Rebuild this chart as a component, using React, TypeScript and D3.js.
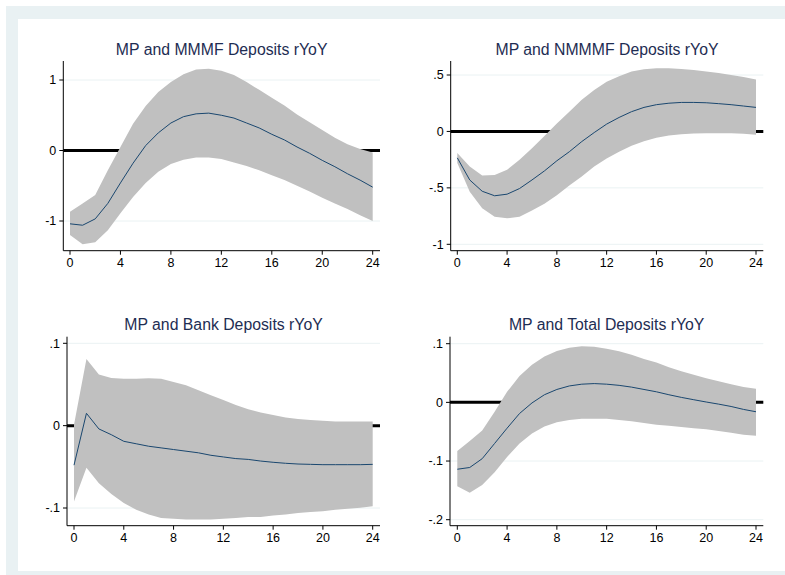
import React from "react";
import * as d3 from "d3";

const horizon = d3.range(0, 25);

const titles = [
  "MP and MMMF Deposits rYoY",
  "MP and NMMMF Deposits rYoY",
  "MP and Bank Deposits rYoY",
  "MP and Total Deposits rYoY",
];

const mmmfIrf = [-1.04, -1.06, -0.97, -0.75, -0.46, -0.18, 0.07, 0.25, 0.39, 0.48, 0.52, 0.53, 0.5, 0.46, 0.39, 0.32, 0.23, 0.15, 0.05, -0.04, -0.14, -0.23, -0.33, -0.42, -0.52];
const mmmfUpper = [-0.87, -0.75, -0.63, -0.28, 0.05, 0.38, 0.63, 0.83, 0.97, 1.08, 1.15, 1.16, 1.13, 1.07, 0.97, 0.86, 0.75, 0.64, 0.51, 0.4, 0.29, 0.18, 0.09, 0.02, -0.03];
const mmmfLower = [-1.2, -1.33, -1.3, -1.13, -0.89, -0.66, -0.46, -0.3, -0.19, -0.13, -0.1, -0.1, -0.12, -0.17, -0.22, -0.28, -0.35, -0.42, -0.5, -0.58, -0.67, -0.75, -0.83, -0.92, -1.0];

const nmmmfIrf = [-0.234, -0.43, -0.53, -0.57, -0.556, -0.506, -0.43, -0.35, -0.26, -0.18, -0.09, -0.01, 0.065, 0.124, 0.175, 0.213, 0.237, 0.25, 0.257, 0.257, 0.254, 0.246, 0.237, 0.225, 0.213];
const nmmmfUpper = [-0.19, -0.31, -0.39, -0.385, -0.34, -0.25, -0.15, -0.04, 0.07, 0.175, 0.28, 0.367, 0.44, 0.49, 0.53, 0.55, 0.56, 0.56, 0.553, 0.544, 0.53, 0.518, 0.5, 0.482, 0.46];
const nmmmfLower = [-0.28, -0.535, -0.68, -0.757, -0.77, -0.757, -0.7, -0.64, -0.565, -0.48, -0.4, -0.31, -0.24, -0.18, -0.127, -0.086, -0.056, -0.036, -0.024, -0.018, -0.015, -0.015, -0.015, -0.02, -0.03];

const bankIrf = [-0.048, 0.015, -0.004, -0.011, -0.019, -0.022, -0.025, -0.027, -0.029, -0.031, -0.033, -0.036, -0.038, -0.04, -0.041, -0.043, -0.0445, -0.0457, -0.0466, -0.047, -0.0474, -0.0474, -0.0474, -0.0474, -0.047];
const bankUpper = [0.001, 0.081, 0.062, 0.058, 0.057, 0.057, 0.0575, 0.057, 0.053, 0.049, 0.043, 0.037, 0.031, 0.025, 0.02, 0.016, 0.013, 0.01, 0.008, 0.007, 0.006, 0.005, 0.005, 0.005, 0.005];
const bankLower = [-0.092, -0.051, -0.07, -0.083, -0.094, -0.102, -0.108, -0.112, -0.113, -0.114, -0.114, -0.114, -0.113, -0.112, -0.111, -0.111, -0.109, -0.108, -0.106, -0.105, -0.104, -0.102, -0.101, -0.0996, -0.098];

const totalIrf = [-0.114, -0.111, -0.096, -0.07, -0.044, -0.019, -0.001, 0.013, 0.022, 0.028, 0.031, 0.032, 0.031, 0.029, 0.026, 0.022, 0.018, 0.013, 0.0085, 0.0045, 0.0006, -0.003, -0.007, -0.012, -0.016];
const totalUpper = [-0.083, -0.066, -0.048, -0.016, 0.018, 0.045, 0.064, 0.078, 0.0875, 0.093, 0.0955, 0.095, 0.0915, 0.087, 0.081, 0.074, 0.068, 0.06, 0.053, 0.047, 0.041, 0.036, 0.031, 0.026, 0.023];
const totalLower = [-0.143, -0.154, -0.141, -0.119, -0.093, -0.07, -0.053, -0.041, -0.034, -0.03, -0.028, -0.028, -0.028, -0.03, -0.032, -0.035, -0.038, -0.04, -0.042, -0.044, -0.046, -0.049, -0.052, -0.055, -0.057];

const xTicks = [0, 4, 8, 12, 16, 20, 24];
const yTicksMmmf = [-1, 0, 1];
const yTicksNmmmf = [-1, -0.5, 0, 0.5];
const yTicksBank = [-0.1, 0, 0.1];
const yTicksTotal = [-0.2, -0.1, 0, 0.1];

const fmtTick = (v: number) => {
  if (v === 0) return "0";
  const s = String(v);
  return s.replace(/^(-?)0\./, "$1.");
};

type PanelSpec = {
  title: string;
  irf: number[];
  upper: number[];
  lower: number[];
  yTicks: number[];
  box: { left: number; right: number; top: number; bottom: number };
  xRange: [number, number];
  yDomain: [number, number];
  yRange: [number, number];
};

const panels: PanelSpec[] = [
  {
    title: titles[0], irf: mmmfIrf, upper: mmmfUpper, lower: mmmfLower, yTicks: yTicksMmmf,
    box: { left: 63.3, right: 380, top: 61, bottom: 250.7 },
    xRange: [70, 372.7], yDomain: [-1, 1], yRange: [221, 80],
  },
  {
    title: titles[1], irf: nmmmfIrf, upper: nmmmfUpper, lower: nmmmfLower, yTicks: yTicksNmmmf,
    box: { left: 450.7, right: 763.3, top: 61, bottom: 250.7 },
    xRange: [457.3, 756], yDomain: [-1, 0.5], yRange: [244.3, 75],
  },
  {
    title: titles[2], irf: bankIrf, upper: bankUpper, lower: bankLower, yTicks: yTicksBank,
    box: { left: 67, right: 380, top: 336.7, bottom: 525.7 },
    xRange: [74, 372.7], yDomain: [-0.1, 0.1], yRange: [508, 343.3],
  },
  {
    title: titles[3], irf: totalIrf, upper: totalUpper, lower: totalLower, yTicks: yTicksTotal,
    box: { left: 450, right: 763.3, top: 336.7, bottom: 525.7 },
    xRange: [457.3, 756], yDomain: [-0.2, 0.1], yRange: [519.7, 343.7],
  },
];

const FONT = "'Liberation Sans', Arial, sans-serif";

function Panel({ p }: { p: PanelSpec }) {
  const x = d3.scaleLinear().domain([0, 24]).range(p.xRange);
  const y = d3.scaleLinear().domain(p.yDomain).range(p.yRange);
  const area = d3
    .area<number>()
    .x((t) => x(t))
    .y0((t) => y(p.lower[t]))
    .y1((t) => y(p.upper[t]));
  const line = d3
    .line<number>()
    .x((t) => x(t))
    .y((t) => y(p.irf[t]));
  const { left, right, top, bottom } = p.box;
  return (
    <g>
      <text
        x={(left + right) / 2}
        y={top - 6.5}
        textAnchor="middle"
        fontFamily={FONT}
        fontSize={15.8}
        fill="#1e2d53"
      >
        {p.title}
      </text>
      {p.yTicks.map((v) => (
        <line key={"g" + v} x1={left} x2={right} y1={y(v)} y2={y(v)} stroke="#eaf2f3" strokeWidth={1} />
      ))}
      <line x1={left} x2={right} y1={y(0)} y2={y(0)} stroke="#000" strokeWidth={3} />
      <path d={area(horizon) || ""} fill="#c0c0c0" />
      <path d={line(horizon) || ""} fill="none" stroke="#1a476f" strokeWidth={1} />
      <line x1={left} x2={left} y1={top} y2={bottom} stroke="#000" strokeWidth={1} />
      <line x1={left} x2={right} y1={bottom} y2={bottom} stroke="#000" strokeWidth={1} />
      {p.yTicks.map((v) => (
        <g key={"y" + v}>
          <line x1={left - 4} x2={left} y1={y(v)} y2={y(v)} stroke="#000" strokeWidth={1} />
          <text
            x={left - 7}
            y={y(v)}
            dy="0.35em"
            textAnchor="end"
            fontFamily={FONT}
            fontSize={12.5}
            fill="#000"
          >
            {fmtTick(v)}
          </text>
        </g>
      ))}
      {xTicks.map((t) => (
        <g key={"x" + t}>
          <line x1={x(t)} x2={x(t)} y1={bottom} y2={bottom + 4} stroke="#000" strokeWidth={1} />
          <text
            x={x(t)}
            y={bottom + 16}
            textAnchor="middle"
            fontFamily={FONT}
            fontSize={12.5}
            fill="#000"
          >
            {t}
          </text>
        </g>
      ))}
    </g>
  );
}

export default function App() {
  return (
    <svg
      width={785}
      height={575}
      style={{ position: "fixed", left: 0, top: 0, display: "block" }}
    >
      <rect x={0} y={0} width={785} height={575} fill="#ffffff" />
      <rect x={6} y={6} width={779} height={569} fill="#e9f1f3" />
      <rect x={18} y={19} width={767} height={552} fill="#ffffff" />
      {panels.map((p) => (
        <Panel key={p.title} p={p} />
      ))}
    </svg>
  );
}
